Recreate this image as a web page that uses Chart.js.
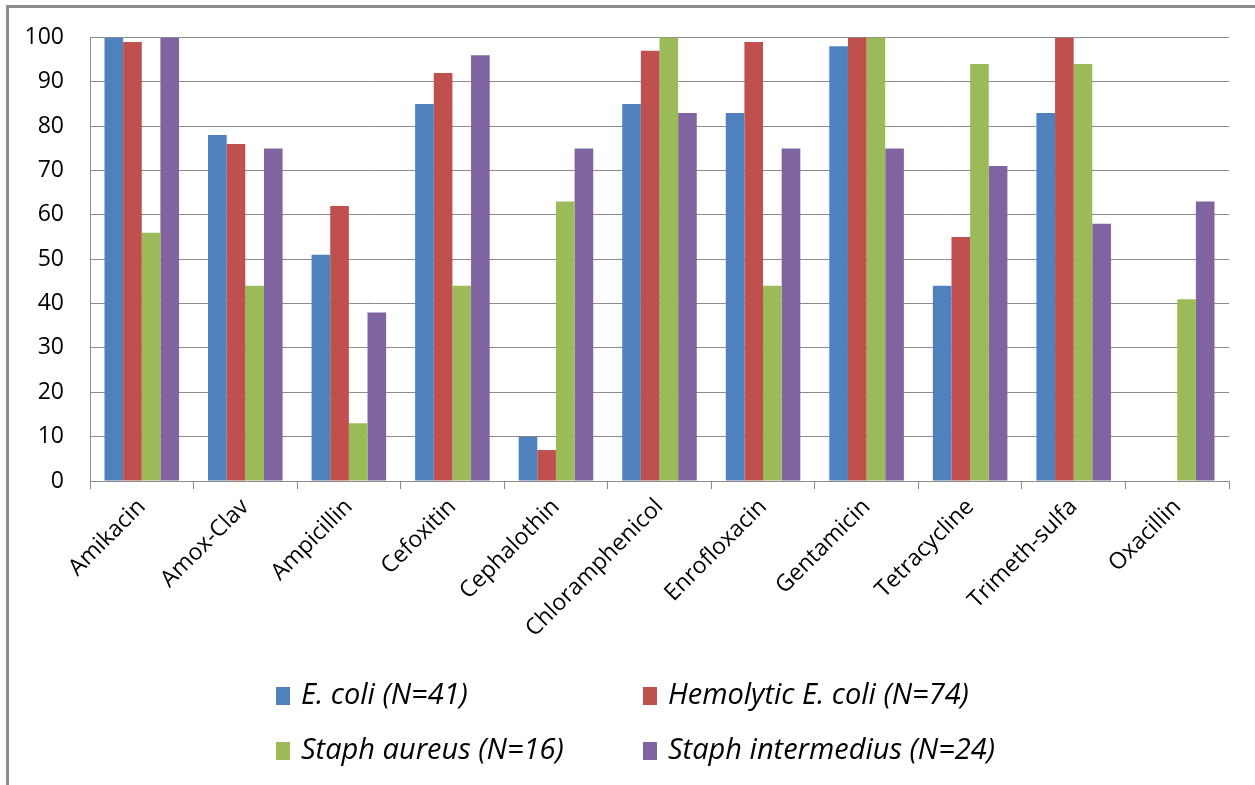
<!DOCTYPE html>
<html>
<head>
<meta charset="utf-8">
<script src="https://cdn.jsdelivr.net/npm/chart.js@4.4.1/dist/chart.umd.min.js"></script>
<style>
  html, body { margin: 0; padding: 0; background: #ffffff; }
  #wrap { position: relative; width: 1255px; height: 785px; overflow: hidden; }
  #frame {
    position: absolute; left: 6px; top: 5px; width: 1300px; height: 820px;
    border-left: 3px solid #8c8c8c; border-top: 3px solid #8c8c8c;
    box-sizing: border-box; pointer-events: none;
  }
  canvas { position: absolute; left: 0; top: 0; }
</style>
</head>
<body>
<div id="wrap">
  <canvas id="chart" width="1255" height="785"></canvas>
  <div id="frame"></div>
</div>
<script>
// Antibiotics tested
const categories = ['Amikacin', 'Amox-Clav', 'Ampicillin', 'Cefoxitin', 'Cephalothin',
  'Chloramphenicol', 'Enrofloxacin', 'Gentamicin', 'Tetracycline', 'Trimeth-sulfa', 'Oxacillin'];

// Percent susceptible, per organism
const eColi            = [100, 78, 51, 85, 10, 85, 83, 98, 44, 83, null];
const hemolyticEColi   = [99, 76, 62, 92, 7, 97, 99, 100, 55, 100, null];
const staphAureus      = [56, 44, 13, 44, 63, 100, 44, 100, 94, 94, 41];
const staphIntermedius = [100, 75, 38, 96, 75, 83, 75, 75, 71, 58, 63];

const seriesLabels = ['E. coli (N=41)', 'Hemolytic E. coli (N=74)',
  'Staph aureus (N=16)', 'Staph intermedius (N=24)'];
const seriesColors = ['#4F81BD', '#C0504D', '#9BBB59', '#8064A2'];

// Value axis
const yMin = 0, yMax = 100, yStep = 10;

const FONT = '"Open Sans", Lato, "DejaVu Sans", sans-serif';

// Plot-area bounds inside the 1255x785 canvas
const PLOT = { left: 90, right: 1229, top: 35, bottom: 481 };

// Two-column legend drawn beneath the axis
const gridLegend = {
  id: 'gridLegend',
  afterDraw(chart) {
    const ctx = chart.ctx;
    const colX = [276, 643];
    const rowY = [696, 751];
    ctx.save();
    ctx.font = 'italic 29px ' + FONT;
    ctx.textBaseline = 'middle';
    ctx.textAlign = 'left';
    chart.data.datasets.forEach((ds, i) => {
      const x = colX[i % 2];
      const y = rowY[Math.floor(i / 2)];
      ctx.fillStyle = ds.backgroundColor;
      ctx.fillRect(x, y - 9, 14, 18);
      ctx.fillStyle = '#000000';
      ctx.fillText(ds.label, x + 25, y);
    });
    ctx.restore();
  }
};

const seriesData = [eColi, hemolyticEColi, staphAureus, staphIntermedius];

new Chart(document.getElementById('chart'), {
  type: 'bar',
  data: {
    labels: categories,
    datasets: seriesData.map((values, i) => ({
      label: seriesLabels[i],
      data: values,
      backgroundColor: seriesColors[i],
      borderWidth: 0,
      categoryPercentage: 0.72,
      barPercentage: 1.0
    }))
  },
  options: {
    responsive: false,
    animation: false,
    layout: { padding: { left: 0, right: 1255 - PLOT.right, top: PLOT.top, bottom: 0 } },
    plugins: {
      legend: { display: false },
      tooltip: { enabled: false }
    },
    scales: {
      x: {
        offset: true,
        grid: {
          offset: true,
          drawOnChartArea: false,
          drawTicks: true,
          tickLength: 8,
          color: '#8c8c8c',
          lineWidth: 1
        },
        border: { display: true, color: '#8c8c8c', width: 1 },
        ticks: {
          autoSkip: false,
          minRotation: 45,
          maxRotation: 45,
          padding: 6,
          color: '#000000',
          font: { family: FONT, size: 23, lineHeight: 1 }
        },
        afterFit(scale) { scale.height = 785 - PLOT.bottom; scale.paddingTop = 0; scale.paddingBottom = 0; }
      },
      y: {
        min: yMin,
        max: yMax,
        grid: {
          drawTicks: false,
          color: '#8c8c8c',
          lineWidth: 1
        },
        border: { display: true, color: '#8c8c8c', width: 1 },
        ticks: {
          stepSize: yStep,
          padding: 26,
          color: '#000000',
          font: { family: FONT, size: 23, lineHeight: 1 }
        },
        afterFit(scale) { scale.width = PLOT.left; }
      }
    }
  },
  plugins: [gridLegend]
});
</script>
</body>
</html>
